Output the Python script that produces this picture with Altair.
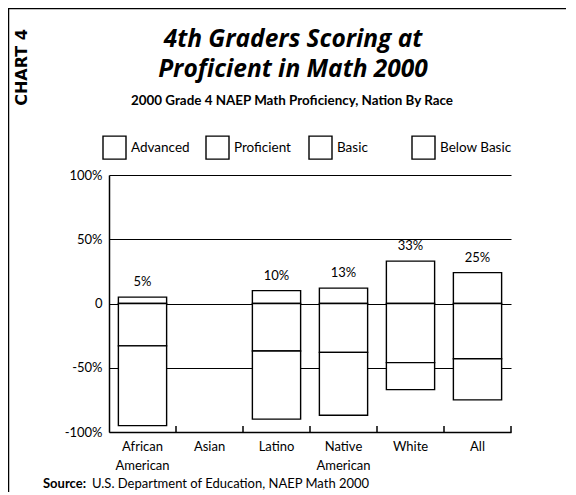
import altair as alt
import pandas as pd

# ---- data ----
categories = ["African American", "Asian", "Latino", "Native American", "White", "All"]
levels = ["Advanced", "Proficient", "Basic", "Below Basic"]
at_or_above_proficient = [5, None, 10, 12, 33, 24]
basic = [33, None, 37, 38, 46, 43]
below_basic = [62, None, 53, 49, 21, 32]
top_labels = ["5%", "", "10%", "13%", "33%", "25%"]
y_ticks = [-100, -50, 0, 50, 100]

rows, lab_rows = [], []
for c, p, b, bb, t in zip(categories, at_or_above_proficient, basic, below_basic, top_labels):
    if p is None:
        continue
    rows.append({"cat": c, "level": "Proficient", "lo": 0, "hi": p})
    rows.append({"cat": c, "level": "Basic", "lo": -b, "hi": 0})
    rows.append({"cat": c, "level": "Below Basic", "lo": -(b + bb), "hi": -b})
    lab_rows.append({"cat": c, "top": p, "label": t})
bars_df = pd.DataFrame(rows)
labels_df = pd.DataFrame(lab_rows)
cats_df = pd.DataFrame({"cat": categories})

FONT = "Lato"
W, H = 402, 257

xscale = alt.Scale(domain=categories, paddingInner=0, paddingOuter=0)
yscale = alt.Scale(domain=[-100, 100], nice=False, zero=False)

bars = alt.Chart(bars_df).mark_bar(
    width=alt.RelativeBandSize(0.72), stroke="black", strokeWidth=1.4
).encode(
    x=alt.X("cat:N", scale=xscale, sort=categories,
            axis=alt.Axis(title=None, labelAngle=0, labelExpr="split(datum.label, ' ')",
                          labelFontSize=13, labelColor="black", labelPadding=8,
                          labelLineHeight=19, ticks=False, domainColor="black",
                          domainWidth=1.5, labelFont=FONT)),
    y=alt.Y("lo:Q", scale=yscale,
            axis=alt.Axis(title=None, values=y_ticks,
                          labelExpr="datum.value == 0 ? '0' : datum.value + '%'",
                          ticks=False, labelPadding=7, labelFontSize=13, labelColor="black",
                          labelFont=FONT, domainColor="black", domainWidth=1.5,
                          grid=True, gridColor="black", gridWidth=1.2)),
    y2="hi:Q",
    color=alt.Color("level:N", scale=alt.Scale(domain=levels, range=["white"] * 4),
                    legend=alt.Legend(title=None, orient="none", legendX=-7, legendY=-40,
                                      direction="horizontal", columns=4, columnPadding=0,
                                      gridAlign="all",
                                      symbolType="square", symbolSize=529,
                                      symbolStrokeColor="black", symbolStrokeWidth=1.4,
                                      symbolFillColor="white", labelFontSize=13.5,
                                      labelColor="black", labelFont=FONT, labelOffset=4,
                                      padding=0)),
)

top_text = alt.Chart(labels_df).mark_text(
    dy=-11, baseline="alphabetic", fontSize=13, font=FONT, color="black"
).encode(
    x=alt.X("cat:N", scale=xscale, sort=categories),
    y=alt.Y("top:Q", scale=yscale),
    text="label:N",
)

ticks = alt.Chart(cats_df).mark_rule(color="black", strokeWidth=1.5).encode(
    x=alt.X("cat:N", scale=xscale, sort=categories, bandPosition=1),
    y=alt.value(H),
    y2=alt.value(H - 6),
)

one = alt.Data(values=[{}])

def note(text, x, y, font=FONT, **kw):
    return alt.Chart(one).mark_text(text=text, font=font, color="black", **kw).encode(
        x=alt.value(x), y=alt.value(y))

title1 = note("4th Graders Scoring at", 184, -128, font="Open Sans", fontSize=24.5,
              fontStyle="italic", fontWeight="bold", align="center", baseline="alphabetic")
title2 = note("Proficient in Math 2000", 184, -98, font="Open Sans", fontSize=24.5,
              fontStyle="italic", fontWeight="bold", align="center", baseline="alphabetic")
subtitle = note("2000 Grade 4 NAEP Math Proficiency, Nation By Race", 183, -70,
                fontSize=13.4, fontWeight="bold", align="center", baseline="alphabetic")
chart_tag = note("CHART 4", -87, -107.5, font="DejaVu Sans", fontSize=16, fontWeight="bold",
                 angle=270, align="center", baseline="middle")
src1 = note("Source:", -66, 313, fontSize=13, fontWeight="bold", align="left",
            baseline="alphabetic")
src2 = note("U.S. Department of Education, NAEP Math 2000", -17, 313, fontSize=13,
            align="left", baseline="alphabetic")

frame_left = alt.Chart(one).mark_rule(color="black", strokeWidth=1.5).encode(
    x=alt.value(-100.5), y=alt.value(-167), y2=alt.value(H + 70))
frame_top = alt.Chart(one).mark_rule(color="black", strokeWidth=1.5).encode(
    x=alt.value(-101), x2=alt.value(W + 60), y=alt.value(-166.5))

chart = alt.layer(
    bars, top_text, ticks, title1, title2, subtitle, chart_tag, src1, src2,
    frame_left, frame_top
).properties(
    width=W, height=H,
    autosize=alt.AutoSizeParams(type="none"),
    padding={"left": 101, "top": 167, "right": 55, "bottom": 60},
).configure(font=FONT, background="white").configure_view(stroke=None)

chart.save("out.html", embed_options={"renderer": "svg", "actions": False})
